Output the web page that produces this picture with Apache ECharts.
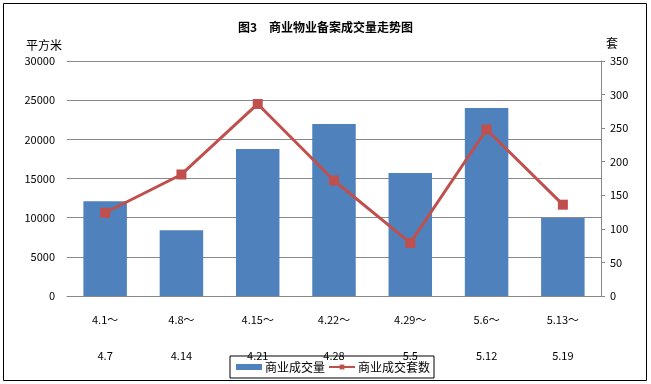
<!DOCTYPE html>
<html><head><meta charset="utf-8">
<script src="https://cdn.jsdelivr.net/npm/echarts@6/dist/echarts.min.js"></script>
<style>html,body{margin:0;padding:0;background:#fff}#c{width:651px;height:384px}</style>
</head><body><div id="c"></div>
<script>
const categories = ['4.1～\n4.7','4.8～\n4.14','4.15～\n4.21','4.22～\n4.28','4.29～\n5.5','5.6～\n5.12','5.13～\n5.19'];
const areaValues = [12100, 8400, 18770, 21960, 15700, 24000, 9960];
const unitValues = [124, 181, 286, 172, 79, 248, 136];
const leftTicks = [0, 5000, 30000];
const rightTicks = [0, 50, 350];

const chart = echarts.init(document.getElementById('c'), null, {renderer:'canvas'});
const font = '"Noto Sans CJK SC", sans-serif';
chart.setOption({
  animation:false,
  backgroundColor:'#fff',
  textStyle:{fontFamily:font},
  title:{text:'图3　商业物业备案成交量走势图',left:'center',top:16,
    textStyle:{fontSize:12,fontWeight:'bold',color:'#000',fontFamily:font}},
  graphic:[{type:'rect',shape:{x:3.5,y:3.5,width:643,height:377},style:{fill:null,stroke:'#000',lineWidth:1}}],
  legend:{bottom:6,left:230,itemGap:3,padding:[5,4,5,6],borderColor:'#000',borderWidth:1,borderRadius:0,
    itemWidth:26,itemHeight:6,
    textStyle:{fontSize:12,color:'#000',fontFamily:font,padding:[0,0,0,-2]},
    data:[{name:'商业成交量',icon:'rect'},{name:'商业成交套数'}]},
  grid:{left:67,right:50,top:61,bottom:88},
  xAxis:{type:'category',data:categories,
    axisLine:{lineStyle:{color:'#888'}},axisTick:{show:false},
    axisLabel:{color:'#000',fontSize:11,lineHeight:36,margin:6,interval:0}},
  yAxis:[{type:'value',min:leftTicks[0],max:leftTicks[2],interval:leftTicks[1],
      name:'平方米',nameLocation:'end',nameGap:10,nameTextStyle:{color:'#000',fontSize:12,align:'right',padding:[0,5,0,0]},
      axisLine:{show:false},axisTick:{show:false},
      axisLabel:{color:'#000',fontSize:11,margin:12,formatter:v=>String(v)},
      splitLine:{lineStyle:{color:'#888'}}},
    {type:'value',min:rightTicks[0],max:rightTicks[2],interval:rightTicks[1],position:'right',
      name:'套',nameLocation:'end',nameGap:12,nameTextStyle:{color:'#000',fontSize:12,align:'left',padding:[0,0,0,5]},
      axisLine:{show:true,lineStyle:{color:'#888'}},axisTick:{show:true,length:4,lineStyle:{color:'#888'}},
      axisLabel:{color:'#000',fontSize:11,margin:9,formatter:v=>String(v)},
      splitLine:{show:false}}],
  series:[{name:'商业成交量',type:'bar',data:areaValues,barWidth:'57%',itemStyle:{color:'#4F81BD'}},
    {name:'商业成交套数',type:'line',yAxisIndex:1,data:unitValues,symbol:'rect',symbolSize:10,
      lineStyle:{color:'#C0504D',width:3},itemStyle:{color:'#C0504D'}}]
});
</script></body></html>
